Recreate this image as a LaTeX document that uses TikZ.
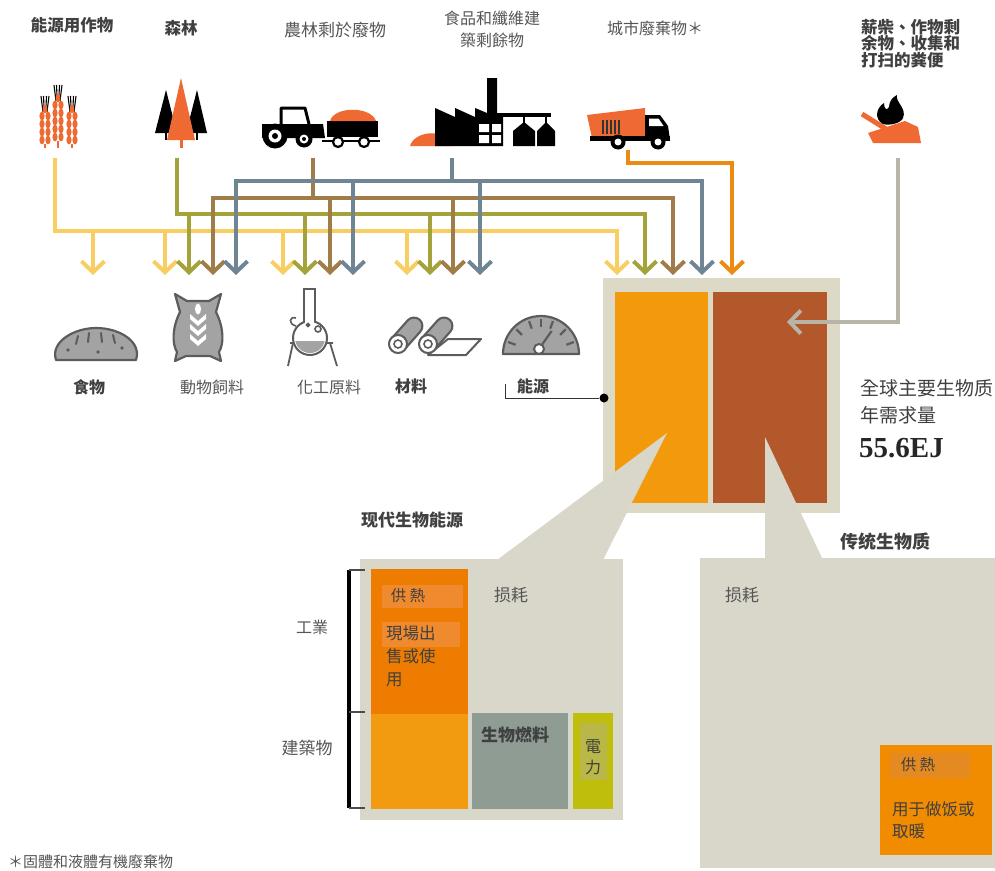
\documentclass[tikz,border=0pt]{standalone}
\usepackage{fontspec}
\setmainfont{Noto Sans CJK TC}
\newfontfamily\numfont{Liberation Serif}
\usepackage{tikz}
\usetikzlibrary{arrows.meta, calc}
\usepackage{xcolor}

% flow colours
\definecolor{cropY}{HTML}{F8CE63}
\definecolor{forestO}{HTML}{A4A23A}
\definecolor{residB}{HTML}{A07C48}
\definecolor{wasteL}{HTML}{6F8593}
\definecolor{urbanR}{HTML}{EC8A12}
\definecolor{fuelG}{HTML}{B8B5A8}
% boxes and panels
\definecolor{frame}{HTML}{DCDAC6}
\definecolor{panel}{HTML}{D9D7CA}
\definecolor{modernO}{HTML}{F29A0C}
\definecolor{tradB}{HTML}{B3582A}
\definecolor{industry}{HTML}{EE7C00}
\definecolor{glow}{HTML}{F08A2E}
\definecolor{building}{HTML}{F29B10}
\definecolor{biofuel}{HTML}{8E9C94}
\definecolor{power}{HTML}{C0BE0C}
\definecolor{powerhl}{HTML}{B9B748}
\definecolor{cooking}{HTML}{F18B00}
\definecolor{cookhl}{HTML}{E58A20}
% icons and text
\definecolor{iconO}{HTML}{EE6A32}
\definecolor{iconG}{HTML}{A3A3A3}
\definecolor{iconD}{HTML}{5C5C5C}
\definecolor{txt}{HTML}{555555}
\definecolor{txtdark}{HTML}{404040}

\begin{document}
\begin{tikzpicture}[x=1pt, y=-1pt,
  lbl/.style={font=\fontsize{16}{22}\selectfont, text=txt, inner sep=0pt, align=center},
  lblb/.style={lbl, font=\fontsize{16}{22}\selectfont\bfseries, text=txtdark},
  ptxt/.style={font=\fontsize{16.5}{23}\selectfont, text=txtdark, inner sep=0pt, align=left},
  bus/.style={line width=4pt},
  flow/.style={line width=4pt, -{Straight Barb[length=11pt,width=23pt]}},
  twoway/.style={line width=4pt, {Straight Barb[length=11pt,width=23pt]}-{Straight Barb[length=11pt,width=23pt]}},
  blk/.style={rectangle, inner sep=0pt, anchor=north west},
  glyph/.style={draw=iconD, fill=iconG, line width=2.2pt, line join=round},
]
\useasboundingbox (0,0) rectangle (995,870);

% ---- source labels ----
\node[lblb, font=\fontsize{16.5}{22}\selectfont\bfseries] (crops) at (72,25) {能源用作物};
\node[lblb, font=\fontsize{16.5}{22}\selectfont\bfseries] (forest) at (181,28) {森林};
\node[lbl, font=\fontsize{17}{22}\selectfont] (resid) at (335,30) {農林剩於廢物};
\node[lbl] (waste) at (492,29) {食品和纖維建\\築剩餘物};
\node[lbl] (urban) at (655,28) {城市廢棄物＊};
\node[lblb, anchor=north west, align=left, font=\fontsize{16.5}{16.5}\selectfont\bfseries, text=txtdark]
  (fuel) at (861,19) {薪柴、作物剩\\余物、收集和\\打扫的粪便};

% ---- source icons ----
% wheat
\foreach \cx/\tp/\rows in {45/96/4, 72/96/4, 58/85/5} {
  \foreach \dx in {-4,-1.5,1.5,4}
    \draw[line width=1.1pt] (\cx+\dx,\tp) -- (\cx+0.5*\dx,\tp+16);
  \fill[iconO] (\cx,\tp+13) ellipse (2.4 and 4.4);
  \foreach \k in {1,...,\rows} {
    \pgfmathsetmacro\gy{\tp+12+8*\k}
    \fill[iconO] (\cx-3,\gy) ellipse (2.6 and 4.4);
    \fill[iconO] (\cx+3,\gy) ellipse (2.6 and 4.4);
  }
  \draw[iconO, line width=1.6pt] (\cx,\tp+16+8*\rows) -- (\cx,148);
}
% trees
\fill (155,133) -- (166,90) -- (177,133) -- cycle;
\fill (186,133) -- (197,90) -- (207,133) -- cycle;
\draw[line width=2pt] (166,132) -- (166,140) (197,132) -- (197,140);
\fill[iconO] (167,140) -- (181,78) -- (195,140) -- cycle;
\fill[iconO] (179.5,139) rectangle (182.5,148);
% tractor and trailer
\draw[line width=3pt, line join=round] (281,126) -- (281,108) -- (305,108) -- (309,124);
\fill (262,124) -- (323,124) -- (325,138) -- (262,138) -- cycle;
\fill (275,136) circle (12.5);
\fill[white] (275,136) circle (6.5);
\fill (275,136) circle (3);
\fill (304,139) circle (8.5);
\fill[white] (304,139) circle (4.5);
\fill (304,139) circle (2);
\draw[line width=2.2pt] (322,141) -- (380,141);
\fill (327,121) rectangle (378,137);
\fill[iconO] (330,121) .. controls (334,106) and (371,106) .. (376,121) -- cycle;
\filldraw[fill=white, line width=2.2pt] (338,142) circle (5) (364,142) circle (5);
% factory
\fill[iconO] (410,146) .. controls (414,131) and (446,127) .. (453,146) -- cycle;
\fill (435,146) -- (435,108) -- (455,117) -- (455,108) -- (475,117) -- (475,108) -- (487,113)
  -- (487,78) -- (497,78) -- (497,113) -- (503,113) -- (503,146) -- cycle;
\fill[white] (479,124) rectangle (489,132) (492,124) rectangle (501,132)
  (479,135) rectangle (489,143) (492,135) rectangle (501,143);
\fill (497,113) rectangle (551,116.5);
\draw[line width=2pt] (524,116) -- (524,124) (546,116) -- (546,124);
\fill (513,146) -- (513,131) -- (524,122) -- (535,131) -- (535,146) -- cycle;
\fill (537,146) -- (537,131) -- (546,122) -- (555,131) -- (555,146) -- cycle;
% garbage truck
\fill[iconO] (587,115) -- (645,108) -- (645,138) -- (592,138) -- cycle;
\foreach \x in {603,607,611,615,619}
  \draw[line width=1.3pt, black!80] (\x,120) -- (\x,134);
\fill (645,115) -- (660,115) -- (668,126) -- (670,140) -- (645,140) -- cycle;
\fill[white] (649,118.5) -- (658.5,118.5) -- (663.5,126) -- (649,126) -- cycle;
\fill (590,136) rectangle (670,141);
\fill (618,142) circle (7.5) (658,142) circle (7.5);
\fill[white] (618,142) circle (3.5) (658,142) circle (3.5);
% open fire
\draw[iconO, line width=5pt] (862,114) -- (886,129);
\fill[iconO] (868,133) -- (905,121) -- (918,127) -- (921,143) -- (873,143) -- cycle;
\fill (883,124) .. controls (874,119) and (876,108) .. (884,103) .. controls (884,109) and (887,111) .. (889,107)
  .. controls (889,101) and (893,97) .. (897,95) .. controls (895,102) and (907,108) .. (903,118)
  .. controls (901,123) and (890,126) .. (883,124) -- cycle;

% ---- flows ----
\foreach \n/\x in {food/93, feed/165, chem/283, mat/407, nrg/617} \coordinate (Y\n) at (\x,275);
\foreach \n/\x in {feed/189, chem/305, mat/430, nrg/645} \coordinate (O\n) at (\x,275);
\foreach \n/\x in {feed/213, chem/330, mat/453, nrg/673} \coordinate (B\n) at (\x,275);
\foreach \n/\x in {feed/236, chem/353, mat/480, nrg/702} \coordinate (L\n) at (\x,275);
\coordinate (Rnrg) at (732,275);
\coordinate (Ybus) at (0,231);
\coordinate (Obus) at (0,214);
\coordinate (Bbus) at (0,198);
\coordinate (Lbus) at (0,181);
\coordinate (Rbus) at (0,163);
\coordinate (cropsout) at (55,158);
\coordinate (forestout) at (177,158);
\coordinate (residout) at (313,158);
\coordinate (wasteout) at (452,158);
\coordinate (urbanout) at (628,150);
\coordinate (fuelout) at (898,158);
\coordinate (fuelin) at (787,322);

% energy crops
\draw[flow, cropY] (cropsout) |- (Ybus -| Ynrg) -- (Ynrg);
\foreach \n in {food, feed, chem, mat}
  \draw[flow, cropY] (Ybus -| Y\n) -- (Y\n);
% forest
\draw[flow, forestO] (forestout) |- (Obus -| Onrg) -- (Onrg);
\foreach \n in {feed, chem, mat}
  \draw[flow, forestO] (Obus -| O\n) -- (O\n);
% agricultural residues
\draw[bus, residB] (residout) -- (residout |- Bbus);
\draw[twoway, residB] (Bfeed) -- (Bbus -| Bfeed) -- (Bbus -| Bnrg) -- (Bnrg);
\foreach \n in {chem, mat}
  \draw[flow, residB] (Bbus -| B\n) -- (B\n);
% food and fibre residues
\draw[bus, wasteL] (wasteout) -- (wasteout |- Lbus);
\draw[twoway, wasteL] (Lfeed) -- (Lbus -| Lfeed) -- (Lbus -| Lnrg) -- (Lnrg);
\foreach \n in {chem, mat}
  \draw[flow, wasteL] (Lbus -| L\n) -- (L\n);
% municipal waste
\draw[flow, urbanR] (urbanout) |- (Rbus -| Rnrg) -- (Rnrg);

% ---- uses ----
% bread
\filldraw[glyph] (56,360) .. controls (50,342) and (74,328) .. (96,328) .. controls (120,328) and (142,342) .. (136,360) -- cycle;
\draw[iconD, line width=2pt, line cap=round] (78,336) -- (76,344) (89,333) -- (88,342) (101,333) -- (102,342) (113,335) -- (115,343);
\fill[iconD] (68,350) circle (1.8) (98,352) circle (1.8) (122,348) circle (1.8);
% feed sack
\filldraw[glyph] (175,294) -- (187,301) -- (209,301) -- (221,294) -- (216,312) .. controls (224,328) and (224,344) .. (219,352)
  -- (221,361) -- (210,356) -- (186,356) -- (175,361) -- (177,352) .. controls (172,344) and (172,328) .. (180,312) -- cycle;
\fill[white] (198,309) ellipse (3 and 5.5);
\foreach \y in {321,331,341}
  \fill[white] (190,\y-7) -- (198,\y) -- (206,\y-7) -- (206,\y-2) -- (198,\y+5) -- (190,\y-2) -- cycle;
% flask on stand
\draw[iconD, line width=1.8pt] (290,343) -- (333,343) (293,343) -- (288,366) (330,343) -- (337,366);
\filldraw[fill=white, draw=iconD, line width=2pt] (304,289) rectangle (315,322);
\filldraw[fill=white, draw=iconD, line width=2pt] (310,338) circle (17);
\fill[white] (305.2,317) rectangle (313.8,324);
\begin{scope}
  \clip (310,338) circle (15);
  \fill[iconG] (290,341) rectangle (330,360);
\end{scope}
\draw[iconD, line width=1.6pt] (318,329) circle (3) (308,325) circle (1.6);
\draw[iconD, line width=1.6pt] (296,326) .. controls (288,324) and (289,316) .. (296,318);
% rolls of material
\filldraw[fill=white, draw=iconD, line width=2pt, line join=round] (428,355) -- (466,355) -- (481,339) -- (448,339) -- cycle;
\foreach \dx in {0,30} {
  \draw[iconD, line width=19pt, line cap=round] (398+\dx,344) -- (414+\dx,326);
  \draw[iconG, line width=14.5pt, line cap=round] (398+\dx,344) -- (414+\dx,326);
  \filldraw[fill=white, draw=iconD, line width=2pt] (398+\dx,344) circle (9);
  \draw[iconD, line width=1.6pt] (398+\dx,344) circle (4);
}
% gauge
\filldraw[glyph] (503,354) arc[start angle=180, end angle=360, radius=38] -- cycle;
\foreach \a in {200,225,250,270,290,315,340}
  \draw[iconD, line width=2.2pt] ($(541,354)+(\a:27)$) -- ($(541,354)+(\a:35)$);
\draw[iconD, line width=2.2pt] (539,349) -- ++(305:22);
\filldraw[fill=white, draw=iconD, line width=2pt] (539,349) circle (5);

% use labels
\node[lblb] (food) at (89,387) {食物};
\node[lbl] (feed) at (212,387) {動物飼料};
\node[lbl] (chem) at (329,387) {化工原料};
\node[lblb] (mat) at (411,386) {材料};
\node[lblb] (nrg) at (533,386) {能源};

% ---- total demand ----
\node[blk, fill=frame, minimum width=237pt, minimum height=235pt] (demand) at (603,278) {};
\node[blk, fill=modernO, minimum width=93pt, minimum height=211pt] (modern) at (615,292) {};
\node[blk, fill=tradB, minimum width=114pt, minimum height=211pt] (trad) at (713,292) {};
\draw[flow, fuelG] (fuelout) |- (fuelin);

\coordinate (nrgtick) at (505,384);
\node[circle, fill=black, inner sep=0pt, minimum size=9pt] (nrgdot) at (604,398) {};
\draw[line width=1pt, black!80] (nrgtick) |- (nrgdot);

\node[anchor=west, inner sep=0pt, text=txtdark, font=\fontsize{19}{22}\selectfont] (total1) at (860,388) {全球主要生物质};
\node[anchor=west, inner sep=0pt, text=txtdark, font=\fontsize{19}{22}\selectfont] (total2) at (860,415) {年需求量};
\node[anchor=west, inner sep=0pt, text=black!85, font=\numfont\bfseries\fontsize{29}{32}\selectfont] (total3) at (859,448) {55.6EJ};

% ---- callouts ----
\fill[panel] (667,433) -- (497,560) -- (603,560) -- cycle;
\fill[panel] (765,437) -- (765,560) -- (823,560) -- cycle;
\node[blk, fill=panel, minimum width=263pt, minimum height=261pt] (modpanel) at (360,559) {};
\node[blk, fill=panel, minimum width=295pt, minimum height=310pt] (tradpanel) at (700,558) {};

\node[lblb, font=\fontsize{17}{20}\selectfont\bfseries] (modtitle) at (412,520) {现代生物能源};
\node[lblb, font=\fontsize{18}{20}\selectfont\bfseries] (tradtitle) at (885,542) {传统生物质};

% modern bioenergy
\node[blk, fill=industry, minimum width=97pt, minimum height=145pt] (ind) at (371,569) {};
\node[blk, fill=building, minimum width=97pt, minimum height=95pt] (bld) at (371,714) {};
\node[blk, fill=biofuel, minimum width=96pt, minimum height=96pt] (bio) at (472,713) {};
\node[blk, fill=power, minimum width=40pt, minimum height=96pt] (elec) at (573,713) {};
\fill[glow] (382,585) rectangle (463,608);
\fill[glow] (382,622) rectangle (460,647);
\fill[powerhl] (580,723) rectangle (607,780);
\node[ptxt, font=\fontsize{15.5}{20}\selectfont] (heat1) at (408,596) {供 熱};
\node[ptxt, anchor=north west] (sold) at (386,625) {現場出\\售或使\\用};
\node[ptxt, text=txt, font=\fontsize{17}{20}\selectfont] (loss1) at (511,595) {损耗};
\node[ptxt, font=\fontsize{17}{20}\selectfont\bfseries, text=black!75] (biofl) at (515,735) {生物燃料};
\node[ptxt, align=center, font=\fontsize{16}{21}\selectfont] (elecl) at (593,757) {電\\力};

\coordinate (brtop) at (349,570);
\coordinate (brmid) at (349,712);
\coordinate (brbot) at (349,808);
\draw[line width=4pt] (brtop) -- (brbot);
\foreach \p in {brtop, brmid, brbot}
  \draw[line width=1.2pt, black!70] (\p) -- ++(16,0);
\node[lbl] (industry) at (312,627) {工業};
\node[lbl, font=\fontsize{17}{20}\selectfont] (buildings) at (307,748) {建築物};

% traditional biomass
\node[ptxt, text=txt, font=\fontsize{17}{20}\selectfont] (loss2) at (742,595) {损耗};
\node[blk, fill=cooking, minimum width=112pt, minimum height=110pt] (cook) at (880,745) {};
\fill[cookhl] (890,753) rectangle (970,778);
\node[ptxt, font=\fontsize{15.5}{20}\selectfont] (heat2) at (918,765) {供 熱};
\node[ptxt, anchor=north west, font=\fontsize{16.5}{22}\selectfont] (cookl) at (892,801) {用于做饭或\\取暖};

% footnote
\node[anchor=west, inner sep=0pt, text=txt, font=\fontsize{15}{16}\selectfont] (note) at (8,862) {＊固體和液體有機廢棄物};
\end{tikzpicture}
\end{document}
